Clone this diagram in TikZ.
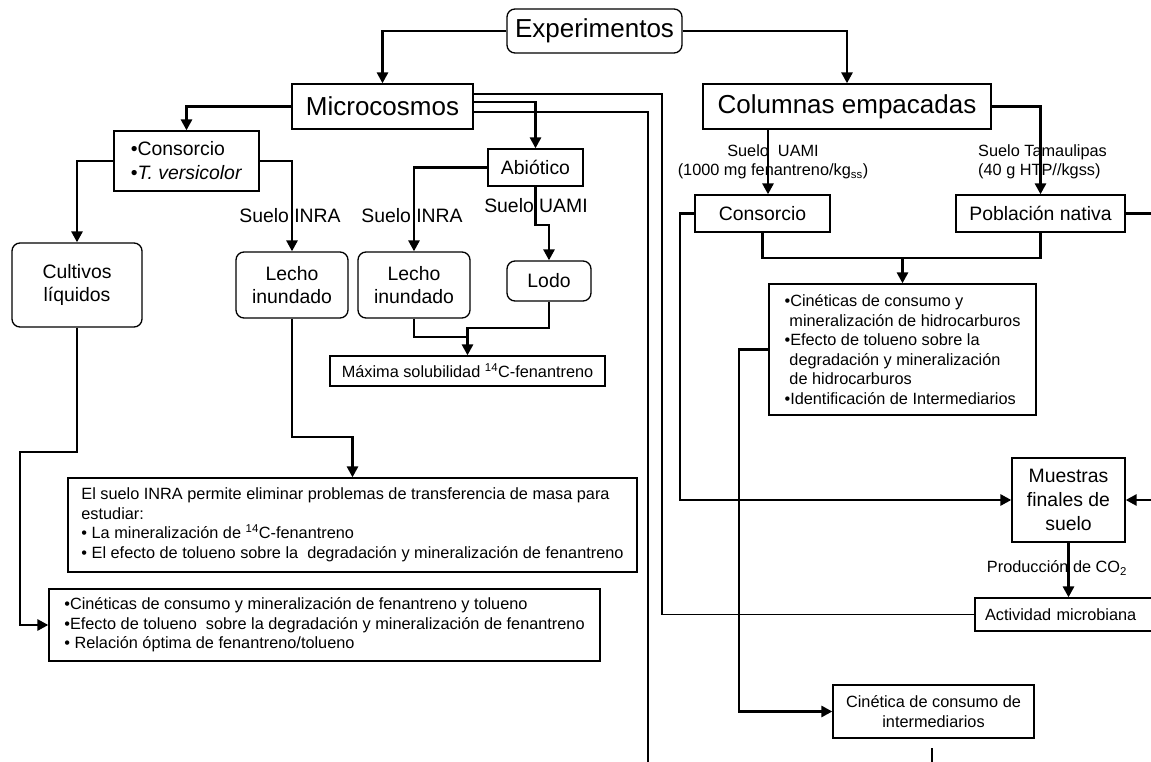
\documentclass[tikz,border=0pt]{standalone}
\usepackage{fontspec}
\setmainfont{Liberation Sans}
\usetikzlibrary{arrows.meta,calc}
\newcommand\fzL{\fontsize{26}{30}\selectfont}
\newcommand\fzM{\fontsize{19.4}{23.5}\selectfont}
\newcommand\fzS{\fontsize{16.3}{19.5}\selectfont}
\tikzset{
  box/.style={draw, line width=1.3pt, inner sep=0pt, align=center},
  rbox/.style={box, rounded corners=8pt},
  thk/.style={line width=2.8pt},
  arr/.style={line width=2.8pt, -{Triangle[length=11pt,width=11pt]}},
  thn/.style={line width=1.2pt},
  lbl/.style={inner sep=0pt, align=center}
}
\begin{document}
\begin{tikzpicture}[x=1pt,y=-1pt]
\useasboundingbox (0,0) rectangle (1151,762);
\fill[white] (0,0) rectangle (1151,762);
\clip (0,0) rectangle (1151,762);

% ---------- nodes ----------
\node[rbox, minimum width=175pt, minimum height=44pt, font=\fzL] (exp) at (594.5,31) {Experimentos};
\node[box, minimum width=181pt, minimum height=45pt, font=\fzL] (mic) at (382.5,106.5) {Microcosmos};
\node[box, minimum width=288pt, minimum height=45pt, font=\fzL] (col) at (847,106.5) {Columnas empacadas};

\node[box, minimum width=145pt, minimum height=60pt, font=\fontsize{19.4}{24}\selectfont, align=left] (cons) at (186.5,161) {•Consorcio\\•\textit{T. versicolor}};
\node[rbox, minimum width=130pt, minimum height=84pt, font=\fzM] (cul) at (77,285) {Cultivos\\líquidos};
\node[rbox, minimum width=112pt, minimum height=66pt, font=\fzM] (le1) at (292,285) {Lecho\\inundado};
\node[rbox, minimum width=112pt, minimum height=66pt, font=\fzM] (le2) at (414,285) {Lecho\\inundado};
\node[box, minimum width=95pt, minimum height=37pt, font=\fzM] (abi) at (535.5,167.5) {Abiótico};
\node[rbox, minimum width=84pt, minimum height=40pt, font=\fzM] (lodo) at (549,281) {Lodo};
\node[box, minimum width=275pt, minimum height=30pt, font=\fzS] (max) at (467.5,371) {Máxima solubilidad \textsuperscript{14}C-fenantreno};

\node[box, minimum width=569pt, minimum height=94pt, font=\fzS, align=left] (els) at (352.5,525)
 {El suelo INRA permite eliminar problemas de transferencia de masa para\\estudiar:\\• La mineralización de \textsuperscript{14}C-fenantreno\\• El efecto de tolueno sobre la \ degradación y mineralización de fenantreno};
\node[box, minimum width=551pt, minimum height=72pt, font=\fzS, align=left] (cinl) at (324.5,625)
 {•Cinéticas de consumo y mineralización de fenantreno y tolueno\\•Efecto de tolueno \ sobre la degradación y mineralización de fenantreno\\• Relación óptima de fenantreno/tolueno};

\node[box, minimum width=135pt, minimum height=37pt, font=\fzM] (consr) at (762.5,213.5) {Consorcio};
\node[box, minimum width=169pt, minimum height=37pt, font=\fzM] (pob) at (1040.5,213.5) {Población nativa};
\node[box, minimum width=267pt, minimum height=131pt, font=\fzS, align=left] (cinr) at (902.5,349.5)
 {•Cinéticas de consumo y\\\hspace*{.3em}mineralización de hidrocarburos\\•Efecto de tolueno sobre la\\\hspace*{.3em}degradación y mineralización\\\hspace*{.3em}de hidrocarburos\\•Identificación de Intermediarios};
\node[box, minimum width=113pt, minimum height=84pt, font=\fontsize{19.4}{24}\selectfont] (mu) at (1068.5,500) {Muestras\\finales de\\suelo};
\node[box, minimum height=33pt, font=\fzS, text width=165pt, inner xsep=10pt, align=left] (act) at (1067.5,614.5) {Actividad microbiana};
\node[box, minimum width=201pt, minimum height=53pt, font=\fzS] (int) at (933.5,711.5) {Cinética de consumo de\\intermediarios};

% ---------- labels ----------
\node[lbl, font=\fzM] (l1) at (290,216) {Suelo INRA};
\node[lbl, font=\fzM] (l2) at (412,216) {Suelo INRA};
\node[lbl, font=\fzM] (l3) at (536,206) {Suelo UAMI};
\node[lbl, font=\fzS] (l4) at (773,162) {Suelo \ UAMI\\(1000 mg fenantreno/kg\textsubscript{ss})};
\node[lbl, font=\fzS, anchor=west, align=left] (l5) at (978,162) {Suelo Tamaulipas\\(40 g HTP//kgss)};
\node[lbl, font=\fzS] (l6) at (1057,568) {Producción de CO\textsubscript{2}};

% ---------- helper coordinates ----------
\coordinate (jA) at (0,337);
\coordinate (jB) at (0,328);
\coordinate (jC) at (0,437);
\coordinate (jD) at (20,452);
\coordinate (jE) at (0,225);
\coordinate (jG) at (0,258);
\coordinate (kE) at (662,0);
\coordinate (kF) at (680,0);
\coordinate (kH) at (739,0);
\coordinate (outR) at (1175,0);
\coordinate (bot) at (648,770);
\coordinate (csTop) at ([xshift=5.5pt]consr.north);
\coordinate (st1) at (932,748);
\coordinate (st2) at (932,770);

% ---------- connectors ----------
\draw[arr] (exp.west) -| (mic.north);
\draw[arr] (exp.east) -| (col.north);
\draw[arr] (mic.west) -| (cons.north);
\draw[arr] (cons.west) -| (cul.north);
\draw[arr] (cons.east) -| (le1.north);
\draw[arr] ([yshift=4.5pt]mic.east) -| (abi.north);
\draw[arr] (abi.west) -| (le2.north);
\draw[arr] (abi.south) -- (abi.south |- jE) -| (lodo.north);
\draw[thk] (le2.south) |- (max.north |- jA);
\draw[arr] (lodo.south) |- (max.north |- jB) -- (max.north);
\draw[arr] (le1.south) |- (els.north |- jC) -- (els.north);
\draw[arr] (cul.south) |- (jD) |- (cinl.west);

\draw[thn] ([yshift=12.5pt]mic.east) -| (act.west -| kE) -- (act.west);
\draw[thn] ([yshift=-5.5pt]mic.east) -| (bot);

\draw[arr] (csTop |- col.south) -- (csTop);
\draw[arr] (col.east) -| (pob.north);
\draw[thk] (consr.south) |- (pob.south |- jG) -- (pob.south);
\draw[arr] (cinr.north |- jG) -- (cinr.north);
\draw[arr] (consr.west) -| (mu.west -| kF) -- (mu.west);
\draw[arr] (pob.east) -| (mu.east -| outR) -- (mu.east);
\draw[arr] (cinr.west) -| (int.west -| kH) -- (int.west);
\draw[arr] (mu.south) -- (mu.south |- act.north);
\draw[thn] (st1) -- (st2);
\end{tikzpicture}
\end{document}
